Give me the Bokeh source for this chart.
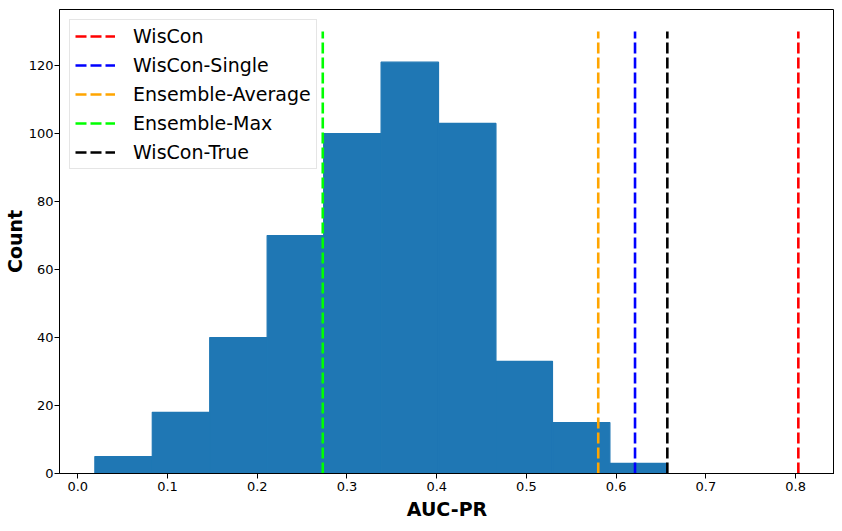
from bokeh.plotting import figure
from bokeh.models import Range1d, Legend, LegendItem, FixedTicker, PrintfTickFormatter
from bokeh.embed import file_html
from bokeh.resources import INLINE

bin_edges = [0.019, 0.083, 0.147, 0.211, 0.274, 0.338, 0.402, 0.466, 0.529, 0.593, 0.657]
counts = [5, 18, 40, 70, 100, 121, 103, 33, 15, 3]

line_names = ["WisCon", "WisCon-Single", "Ensemble-Average", "Ensemble-Max", "WisCon-True"]
line_values = [0.803, 0.621, 0.580, 0.273, 0.657]
line_colors = ["#ff0000", "#0000ff", "#ffa500", "#00ff00", "#000000"]
line_top = 130

x_ticks = [0.0, 0.1, 0.2, 0.3, 0.4, 0.5, 0.6, 0.7, 0.8]
y_ticks = [0, 20, 40, 60, 80, 100, 120]

p = figure(width=834, height=523, output_backend="svg", toolbar_location=None,
           x_range=Range1d(-0.0204, 0.8433), y_range=Range1d(0, 136.5),
           min_border_left=56, min_border_right=0, min_border_top=9, min_border_bottom=50)

p.quad(left=bin_edges[:-1], right=bin_edges[1:], bottom=[0] * len(counts), top=counts,
       fill_color="#1f77b4", line_color="#1f77b4", line_width=1.2)

items = []
for name, v, c in zip(line_names, line_values, line_colors):
    r = p.segment(x0=[v], y0=[0], x1=[v], y1=[line_top], line_color=c, line_width=2.6,
                  line_dash="11 4")
    items.append(LegendItem(label=name, renderers=[r]))

legend = Legend(items=items, location="top_left")
legend.label_text_font = "DejaVu Sans"
legend.label_text_font_size = "19px"
legend.label_text_color = "black"
legend.glyph_width = 40
legend.glyph_height = 22
legend.spacing = 7
legend.padding = 5
legend.margin = 10
legend.label_standoff = 18
legend.border_line_color = "#cccccc"
legend.border_line_width = 1
legend.background_fill_alpha = 0.8
p.add_layout(legend, "center")

p.xgrid.visible = False
p.ygrid.visible = False
p.outline_line_color = "black"
p.outline_line_width = 1

p.xaxis.ticker = FixedTicker(ticks=x_ticks)
p.xaxis.formatter = PrintfTickFormatter(format="%.1f")
p.yaxis.ticker = FixedTicker(ticks=y_ticks)

for ax in (p.xaxis[0], p.yaxis[0]):
    ax.major_label_text_font = "DejaVu Sans"
    ax.major_label_text_font_size = "13px"
    ax.major_label_text_color = "black"
    ax.axis_label_text_font = "DejaVu Sans"
    ax.axis_label_text_font_size = "19px"
    ax.axis_label_text_font_style = "bold"
    ax.axis_label_text_color = "black"
    ax.minor_tick_line_color = None
    ax.major_tick_in = 0
    ax.major_tick_out = 5
    ax.major_tick_line_color = "black"
    ax.axis_line_color = "black"

p.xaxis.major_label_standoff = 3
p.xaxis.axis_label_standoff = 4
p.yaxis.major_label_standoff = 1
p.yaxis.axis_label_standoff = 0

p.xaxis.axis_label = "AUC-PR"
p.yaxis.axis_label = "Count"

open("out.html", "w").write(file_html(p, INLINE))
